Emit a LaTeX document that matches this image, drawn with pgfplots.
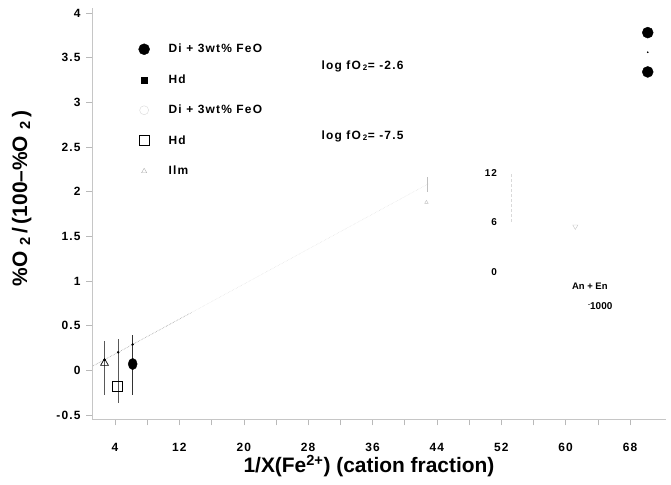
\documentclass[border=0pt]{standalone}
\usepackage{fontspec}
\setmainfont{Liberation Sans}
\newfontfamily\spaced[LetterSpace=10]{Liberation Sans}
\usepackage{pgfplots}
\pgfplotsset{compat=1.18}
\begin{document}
\begin{tikzpicture}
\begin{axis}[
  at={(0,0)}, anchor=south west,
  width=574.2bp, height=410.9bp, scale only axis,
  xmin=1.15, xmax=72.5, ymin=-0.55, ymax=4.05,
  axis x line*=bottom, axis y line*=left,
  axis line style={gray!45, line width=0.5pt, -},
  clip=false,
  tick align=outside,
  major tick length=6bp, minor tick length=6bp,
  tick style={gray!55, line width=0.5pt},
  xtick={4,12,20,28,36,44,52,60,68},
  xticklabels={4,12,20,28,36,44,52,60,68},
  minor xtick={8,16,24,32,40,48,56,64},
  ytick={-0.5,0,0.5,1,1.5,2,2.5,3,3.5,4},
  yticklabels={-0.5,0,0.5,1,1.5,2,2.5,3,3.5,4},
  ticklabel style={font=\spaced\bfseries\fontsize{12}{14}\selectfont},
  xticklabel style={yshift=-14bp},
  yticklabel style={xshift=-2bp},
  xlabel={1/X(Fe\textsuperscript{2+}) (cation fraction)},
  xlabel style={font=\bfseries\fontsize{21}{24}\selectfont, at={(axis cs:19.54,-1.15)}, anchor=base west},
  ylabel={\%O\,\textsubscript{\,2}\,/\,(100--\%O\,\textsubscript{\,2}\,)},
  ylabel style={font=\bfseries\fontsize{21}{24}\selectfont, at={(axis cs:-6.93,0.9)}, anchor=base west, rotate=0},
  legend cell align=left,
  legend style={draw=none, fill=none, inner xsep=0pt, inner ysep=0pt,
    at={(axis cs:6.55,3.68)}, anchor=north west,
    font=\spaced\bfseries\fontsize{12}{14}\selectfont,
    row sep=15.5bp,
    nodes={inner sep=1bp, text height=10bp, text depth=3bp}},
  legend image code/.code={\draw[mark repeat=2,mark phase=2,#1] plot coordinates {(0bp,0bp) (8bp,0bp) (16bp,0bp)};\path (0bp,0bp) (31bp,0bp);},
]
% legend entries
\addlegendimage{only marks, mark=*, mark size=5.5bp, black}
\addlegendentry{Di + 3wt\% FeO}
\addlegendimage{only marks, mark=square*, mark size=3bp, black}
\addlegendentry{Hd}
\addlegendimage{only marks, mark=o, mark size=4.5bp, gray!30}
\addlegendentry{Di + 3wt\% FeO}
\addlegendimage{only marks, mark=square, mark size=5bp, black, line width=0.9pt}
\addlegendentry{Hd}
\addlegendimage{only marks, mark=triangle, mark size=3bp, gray!60}
\addlegendentry{Ilm}

% faint continuation of fit line
\addplot[forget plot, gray!25, densely dotted, line width=0.5pt] coordinates {(13.5,0.646) (43.0,2.09)};
% fit line
\addplot[forget plot, gray!75, densely dotted, line width=0.6pt] coordinates {(1.3,0.05) (13.5,0.646)};

% error bars / data points
\addplot[forget plot, only marks, mark=triangle, mark size=4.5bp, black, line width=0.7pt,
  error bars/.cd, y dir=both, y explicit, error mark=none,
  error bar style={gray!70!black, line width=0.6pt}]
  coordinates {(2.7,0.08) += (0,0.25) -= (0,0.36)};
\addplot[forget plot, only marks, mark=square, mark size=5bp, black, line width=0.9pt,
  mark options={fill=white},
  error bars/.cd, y dir=both, y explicit, error mark=none,
  error bar style={gray!70!black, line width=0.6pt}]
  coordinates {(4.35,-0.18) += (0,0.53) -= (0,0.19)};
\addplot[forget plot, only marks, mark=*, mark size=4.5bp, black, mark options={yscale=1.25},
  error bars/.cd, y dir=both, y explicit, error mark=none,
  error bar style={black!80, line width=0.8pt}]
  coordinates {(6.2,0.07) += (0,0.33) -= (0,0.35)};
% dots on fit line
\addplot[forget plot, only marks, mark=*, mark size=1bp, black] coordinates {(2.7,0.118) (4.4,0.201) (6.2,0.289)};

% high 1/X points
\addplot[forget plot, only marks, mark=*, mark size=5.5bp, black] coordinates {(70.2,3.78) (70.2,3.34)};
\addplot[forget plot, only marks, mark=*, mark size=0.6bp, black] coordinates {(70.2,3.56)};

% faint inset features
\addplot[forget plot, only marks, mark=triangle, mark size=3bp, gray!45, mark options={rotate=180}] coordinates {(61.2,1.61)};
\addplot[forget plot, gray!50, line width=0.5pt] coordinates {(42.8,2.0) (42.8,2.16)};
\addplot[forget plot, only marks, mark=triangle, mark size=2bp, gray!50] coordinates {(42.7,1.88)};
\addplot[forget plot, gray!30, densely dashed, line width=0.5pt] coordinates {(53.3,1.66) (53.3,2.21)};

% annotations
\node[anchor=west, font=\spaced\bfseries\fontsize{12}{14}\selectfont] at (axis cs:29.23,3.406) {log fO\,\textsubscript{2}= -2.6};
\node[anchor=west, font=\spaced\bfseries\fontsize{12}{14}\selectfont] at (axis cs:29.23,2.623) {log fO\,\textsubscript{2}= -7.5};
\node[anchor=east, font=\spaced\bfseries\fontsize{10}{12}\selectfont] at (axis cs:51.9,2.209) {12};
\node[anchor=east, font=\spaced\bfseries\fontsize{10}{12}\selectfont] at (axis cs:51.9,1.660) {6};
\node[anchor=east, font=\spaced\bfseries\fontsize{10}{12}\selectfont] at (axis cs:51.9,1.100) {0};
\node[font=\bfseries\fontsize{9.5}{11}\selectfont] at (axis cs:63.0,0.944) {An + En};
\node[font=\bfseries\fontsize{10}{12}\selectfont] at (axis cs:64.3,0.720) {\raisebox{0.6ex}{\fontsize{6}{6}\selectfont -}1000};
\end{axis}
\pgfresetboundingbox
\useasboundingbox (-92.05bp,-65.6bp) rectangle (578.95bp,419.4bp);
\end{tikzpicture}
\end{document}
